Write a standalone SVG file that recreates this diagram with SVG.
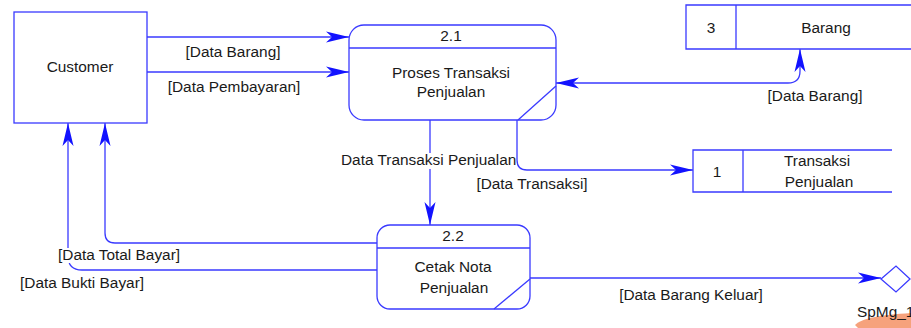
<svg xmlns="http://www.w3.org/2000/svg" width="911" height="328" viewBox="0 0 911 328">
<style>
  .shape { fill: #ffffff; stroke: #3a3aff; stroke-width: 1.3; }
  .ln { fill: none; stroke: #3a3aff; stroke-width: 1.3; }
  .conn { fill: none; stroke: #3a3aff; stroke-width: 1.3; }
  text { font-family: "Liberation Sans", Arial, sans-serif; font-size: 15.4px; fill: #1a1a1a; }
  .c { text-anchor: middle; }
</style>
<defs>
  <marker id="arr" markerUnits="userSpaceOnUse" markerWidth="26" markerHeight="14" refX="23" refY="6" orient="auto-start-reverse">
    <path d="M0,0.5 L23,6 L0,11.5 L6,6 Z" fill="#1212ff"/>
  </marker>
</defs>
<rect width="911" height="328" fill="#ffffff"/>

<g id="connectors">
  <path class="conn" d="M147,37 H349" marker-end="url(#arr)"/>
  <path class="conn" d="M147,72 H349" marker-end="url(#arr)"/>
  <path class="conn" d="M556,83 H788 Q800,83 800,71 V49" marker-start="url(#arr)" marker-end="url(#arr)"/>
  <path class="conn" d="M430,120 V225" marker-end="url(#arr)"/>
  <path class="conn" d="M517,120 V160 Q517,170 527,170 H693" marker-end="url(#arr)"/>
  <path class="conn" d="M377,243 H115 Q105,243 105,233 V123" marker-end="url(#arr)"/>
  <path class="conn" d="M377,270 H82 Q68,270 68,256 V123" marker-end="url(#arr)"/>
  <path class="conn" d="M530,278 H881" marker-end="url(#arr)"/>
  <text class="c" x="233" y="57">[Data Barang]</text>
  <text class="c" x="234" y="92">[Data Pembayaran]</text>
  <text class="c" x="815" y="101">[Data Barang]</text>
  <rect x="341" y="153" width="174" height="16" fill="#ffffff"/>
  <text x="341" y="165">Data Transaksi Penjualan</text>
  <text class="c" x="532" y="189">[Data Transaksi]</text>
  <rect x="57" y="248" width="127" height="15" fill="#ffffff"/>
  <text x="58" y="260">[Data Total Bayar]</text>
  <text x="20" y="288">[Data Bukti Bayar]</text>
  <text class="c" x="691" y="300">[Data Barang Keluar]</text>
</g>

<g id="customer">
  <rect class="shape" x="14" y="12" width="133" height="111"/>
  <text class="c" x="80" y="72">Customer</text>
</g>

<g id="p21">
  <rect class="shape" x="349" y="25" width="207" height="95" rx="15" ry="15"/>
  <line class="ln" x1="349" y1="48" x2="556" y2="48"/>
  <line class="ln" x1="556" y1="86" x2="518" y2="120"/>
  <text class="c" x="451" y="41">2.1</text>
  <text class="c" x="451" y="78">Proses Transaksi</text>
  <text class="c" x="451" y="97">Penjualan</text>
</g>

<g id="p22">
  <rect class="shape" x="377" y="225" width="153" height="84" rx="13" ry="13"/>
  <line class="ln" x1="377" y1="248" x2="530" y2="248"/>
  <line class="ln" x1="530" y1="279" x2="494" y2="309"/>
  <text class="c" x="453" y="241">2.2</text>
  <text class="c" x="453" y="272">Cetak Nota</text>
  <text class="c" x="454" y="293">Penjualan</text>
</g>

<g id="ds3">
  <path class="ln" d="M911,5 H686 V49 H911 M736,5 V49"/>
  <text class="c" x="711" y="33">3</text>
  <text class="c" x="826" y="33">Barang</text>
</g>

<g id="ds1">
  <path class="ln" d="M892,150 H693 V192 H892 M743,150 V192"/>
  <text class="c" x="717" y="177">1</text>
  <text class="c" x="817" y="166">Transaksi</text>
  <text class="c" x="819" y="187">Penjualan</text>
</g>

<g id="spmg1">
  <polygon class="shape" points="881,279 896,266 910,279 896,292"/>
  <path d="M855,325 C862,318 880,315 911,313 V328 H858 Z" fill="#f6a27c"/>
  <text x="857" y="317">SpMg_1</text>
</g>
</svg>
